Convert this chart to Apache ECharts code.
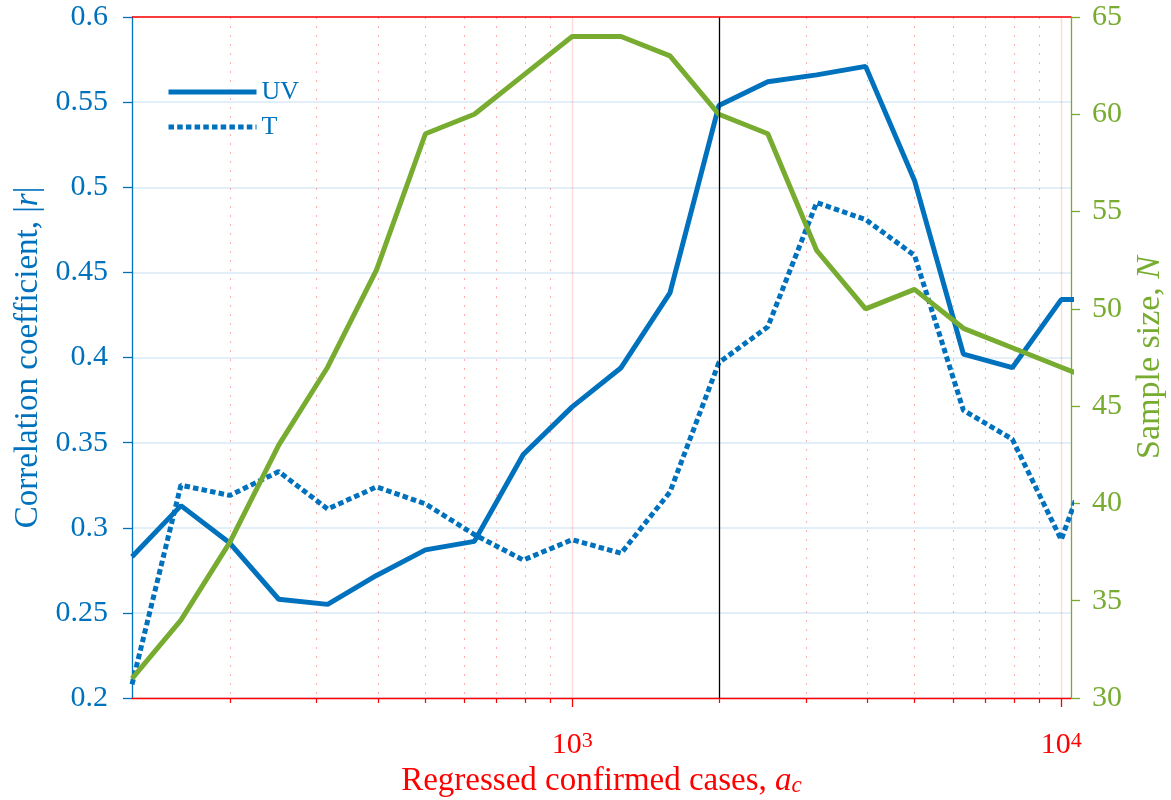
<!DOCTYPE html>
<html><head><meta charset="utf-8">
<script src="https://cdn.jsdelivr.net/npm/echarts@6/dist/echarts.min.js"></script>
<style>html,body{margin:0;padding:0;background:#fff}#c{width:1171px;height:800px}</style>
</head><body><div id="c"></div>
<script>
// ---- data ----
const casesX = [125.9, 158.5, 199.5, 251.2, 316.2, 398.1, 501.2, 631.0, 794.3, 1000, 1258.9, 1584.9, 1995.3, 2511.9, 3162.3, 3981.1, 5011.9, 6309.6, 7943.3, 10000, 12589];
const uvR  = [0.283, 0.313, 0.291, 0.258, 0.255, 0.272, 0.287, 0.292, 0.343, 0.371, 0.394, 0.438, 0.548, 0.562, 0.566, 0.571, 0.504, 0.402, 0.394, 0.434, 0.434];
const tR   = [0.208, 0.325, 0.319, 0.333, 0.311, 0.324, 0.314, 0.296, 0.281, 0.293, 0.285, 0.321, 0.397, 0.418, 0.491, 0.481, 0.460, 0.369, 0.352, 0.293, 0.372];
const sampleN = [31, 34, 38, 43, 47, 52, 59, 60, 62, 64, 64, 63, 60, 59, 53, 50, 51, 49, 48, 47, 46];
const minorTicks = [200, 300, 400, 500, 600, 700, 800, 900, 2000, 3000, 4000, 5000, 6000, 7000, 8000, 9000];
const majorTicks = [1000, 10000];
const thresholdCases = 2000;
const xMin = 125.89, xMax = 10471;

const BLUE = '#0072BD', GREEN = '#77AC30', RED = '#FF0000';
const FONT = '"Liberation Serif", "DejaVu Serif", serif';
const LW = 5;
const DOT = [5.5, 3.2];

const chart = echarts.init(document.getElementById('c'));
const zip = (a, b) => a.map((v, i) => [v, b[i]]);

const option = {
  animation: false,
  backgroundColor: '#fff',
  grid: { left: 132, right: 100, top: 17, bottom: 102, containLabel: false, outerBoundsMode: 'none' },
  legend: {
    data: ['UV', 'T'], orient: 'vertical', left: 166, top: 79, padding: 0,
    itemWidth: 88, itemHeight: 14, itemGap: 9,
    itemStyle: { opacity: 0 },
    lineStyle: { width: LW },
    textStyle: { color: BLUE, fontFamily: FONT, fontSize: 26 }
  },
  xAxis: {
    type: 'log', min: xMin, max: xMax, logBase: 10,
    name: '{n|Regressed confirmed cases, }{i|a}{sub|c}',
    nameLocation: 'middle', nameGap: 66,
    nameTextStyle: {
      color: RED, fontFamily: FONT, fontSize: 33,
      rich: {
        n: { color: RED, fontFamily: FONT, fontSize: 33 },
        i: { color: RED, fontFamily: FONT, fontSize: 33, fontStyle: 'italic' },
        sub: { color: RED, fontFamily: FONT, fontSize: 23, fontStyle: 'italic', verticalAlign: 'bottom' }
      }
    },
    axisLine: { show: true, lineStyle: { color: RED, width: 1.3 } },
    axisTick: { show: false },
    splitLine: { show: false },
    minorTick: { show: false },
    axisLabel: {
      margin: 32, color: RED, fontFamily: FONT, fontSize: 30,
      showMinLabel: false, showMaxLabel: false,
      formatter: function (v) {
        const e = Math.log10(v);
        if (Math.abs(e - Math.round(e)) < 1e-6) return '{b|10}{s|' + Math.round(e) + '}';
        return '';
      },
      rich: {
        b: { color: RED, fontFamily: FONT, fontSize: 30 },
        s: { color: RED, fontFamily: FONT, fontSize: 22, verticalAlign: 'top' }
      }
    }
  },
  yAxis: [
    {
      type: 'value', min: 0.2, max: 0.6, interval: 0.05, position: 'left',
      name: 'Correlation coefficient, |{i|r}|',
      nameLocation: 'middle', nameGap: 84, nameRotate: 90,
      nameTextStyle: {
        color: BLUE, fontFamily: FONT, fontSize: 33,
        rich: { i: { color: BLUE, fontFamily: FONT, fontSize: 33, fontStyle: 'italic' } }
      },
      axisLine: { show: true, lineStyle: { color: BLUE, width: 1.3 } },
      axisTick: { show: true, inside: false, length: 9, lineStyle: { color: BLUE, width: 1.3 } },
      axisLabel: { margin: 24, color: BLUE, fontFamily: FONT, fontSize: 30 },
      splitLine: { show: true, lineStyle: { color: 'rgba(0,114,189,0.15)', width: 1.5 } }
    },
    {
      type: 'value', min: 30, max: 65, interval: 5, position: 'right',
      name: 'Sample size, {i|N}',
      nameLocation: 'middle', nameGap: 62, nameRotate: 90,
      nameTextStyle: {
        color: GREEN, fontFamily: FONT, fontSize: 34,
        rich: { i: { color: GREEN, fontFamily: FONT, fontSize: 34, fontStyle: 'italic' } }
      },
      axisLine: { show: true, lineStyle: { color: GREEN, width: 1.3 } },
      axisTick: { show: true, inside: false, length: 9, lineStyle: { color: GREEN, width: 1.3 } },
      axisLabel: { margin: 21, color: GREEN, fontFamily: FONT, fontSize: 30 },
      splitLine: { show: false }
    }
  ],
  series: [
    {
      name: 'UV', type: 'line', yAxisIndex: 0, data: zip(casesX, uvR),
      symbol: 'none', showSymbol: false, clip: true, z: 3,
      lineStyle: { color: BLUE, width: LW, type: 'solid' }, itemStyle: { color: BLUE },
      markLine: {
        silent: true, symbol: ['none', 'none'], label: { show: false },
        lineStyle: { color: '#000', width: 1.3, type: 'solid' },
        emphasis: { disabled: true },
        data: [{ xAxis: thresholdCases }]
      }
    },
    {
      name: 'T', type: 'line', yAxisIndex: 0, data: zip(casesX, tR),
      symbol: 'none', showSymbol: false, clip: true, z: 3,
      lineStyle: { color: BLUE, width: LW, type: DOT, cap: 'butt' }, itemStyle: { color: BLUE }
    },
    {
      name: 'N', type: 'line', yAxisIndex: 1, data: zip(casesX, sampleN),
      symbol: 'none', showSymbol: false, clip: true, z: 4,
      lineStyle: { color: GREEN, width: LW }, itemStyle: { color: GREEN }
    }
  ]
};
chart.setOption(option);

// decorations positioned through the library's own scales
const px = v => chart.convertToPixel({ xAxisIndex: 0 }, v);
const yTop = chart.convertToPixel({ yAxisIndex: 0 }, 0.6);
const yBot = chart.convertToPixel({ yAxisIndex: 0 }, 0.2);
const xL = px(xMin), xR = px(xMax);
const g = [];
minorTicks.forEach(v => {
  const x = Math.round(px(v)) + 0.5;
  g.push({ type: 'line', silent: true, z: 1, shape: { x1: x, y1: yTop, x2: x, y2: yBot },
    style: { stroke: 'rgba(255,0,0,0.32)', lineWidth: 1, lineDash: [2, 7] } });
  g.push({ type: 'line', silent: true, z: 5, shape: { x1: x, y1: yBot, x2: x, y2: yBot + 5 },
    style: { stroke: RED, lineWidth: 1.2 } });
});
majorTicks.forEach(v => {
  const x = Math.round(px(v)) + 0.5;
  g.push({ type: 'line', silent: true, z: 1, shape: { x1: x, y1: yTop, x2: x, y2: yBot },
    style: { stroke: 'rgba(255,0,0,0.14)', lineWidth: 1.5 } });
  g.push({ type: 'line', silent: true, z: 5, shape: { x1: x, y1: yBot, x2: x, y2: yBot + 9 },
    style: { stroke: RED, lineWidth: 1.3 } });
});
g.push({ type: 'line', silent: true, z: 5, shape: { x1: xL, y1: yTop, x2: xR, y2: yTop },
  style: { stroke: RED, lineWidth: 1.3 } });
chart.setOption({ graphic: { elements: g } });
</script>
</body></html>
